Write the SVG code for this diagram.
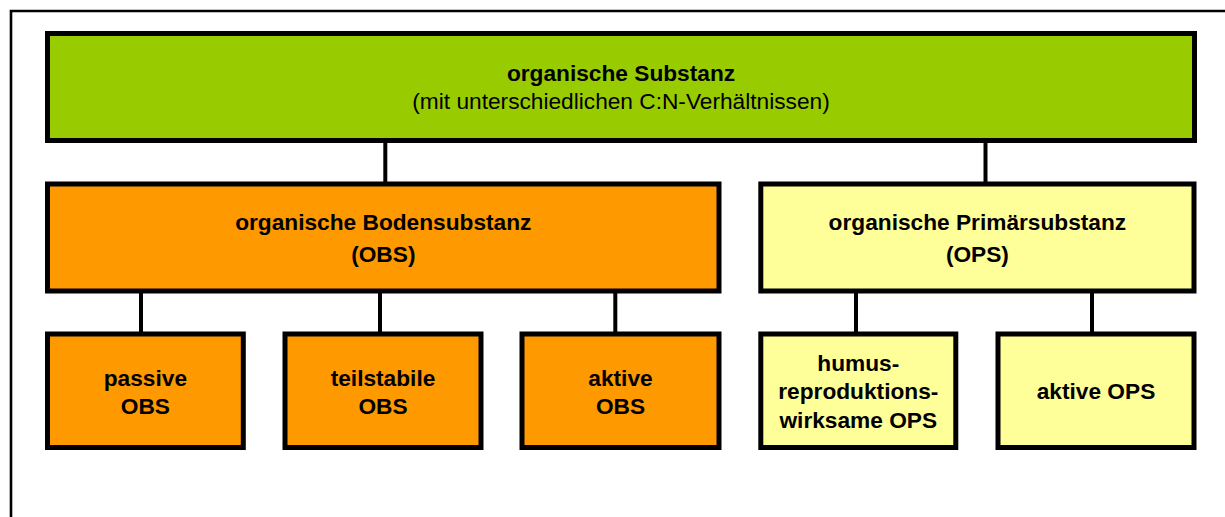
<svg xmlns="http://www.w3.org/2000/svg" width="1225" height="517" viewBox="0 0 1225 517">
<style>
.box{stroke:#000;stroke-width:5}
.g{fill:#99CC00}.o{fill:#FF9900}.y{fill:#FFFF99}
.t{font-family:"Liberation Sans",Arial,sans-serif;font-size:22.7px;fill:#000;text-anchor:middle}
.b{font-weight:bold}
.c{stroke:#000;stroke-width:4;fill:none}
</style>
<rect width="1225" height="517" fill="#fff"/>
<path d="M11,517 V11 H1225" fill="none" stroke="#000" stroke-width="2.6"/>
<g id="connectors">
<line class="c" x1="385.3" y1="140" x2="385.3" y2="184"/>
<line class="c" x1="985.5" y1="140" x2="985.5" y2="184"/>
<line class="c" x1="141" y1="291" x2="141" y2="334"/>
<line class="c" x1="380" y1="291" x2="380" y2="334"/>
<line class="c" x1="615.3" y1="291" x2="615.3" y2="334"/>
<line class="c" x1="856" y1="291" x2="856" y2="334"/>
<line class="c" x1="1092" y1="291" x2="1092" y2="334"/>
</g>
<g id="n-organische-substanz">
<rect class="box g" x="47.5" y="33.5" width="1147" height="107"/>
<text class="t b" x="621" y="81">organische Substanz</text>
<text class="t" x="621" y="109">(mit unterschiedlichen C:N-Verhältnissen)</text>
</g>
<g id="n-obs">
<rect class="box o" x="47.5" y="184" width="671.5" height="107"/>
<text class="t b" x="383.3" y="230">organische Bodensubstanz</text>
<text class="t b" x="383.3" y="261.5">(OBS)</text>
</g>
<g id="n-ops">
<rect class="box y" x="760.8" y="184" width="433.2" height="107"/>
<text class="t b" x="977.4" y="230">organische Primärsubstanz</text>
<text class="t b" x="977.4" y="262">(OPS)</text>
</g>
<g id="n-passive">
<rect class="box o" x="47.5" y="334" width="195.8" height="113.5"/>
<text class="t b" x="145.4" y="386">passive</text>
<text class="t b" x="145.4" y="414">OBS</text>
</g>
<g id="n-teilstabile">
<rect class="box o" x="285" y="334" width="196" height="113.5"/>
<text class="t b" x="383" y="386">teilstabile</text>
<text class="t b" x="383" y="414">OBS</text>
</g>
<g id="n-aktive-obs">
<rect class="box o" x="522" y="334" width="197" height="113.5"/>
<text class="t b" x="620.5" y="386">aktive</text>
<text class="t b" x="620.5" y="414">OBS</text>
</g>
<g id="n-humus">
<rect class="box y" x="760.8" y="334" width="195" height="113.5"/>
<text class="t b" x="858.3" y="371">humus-</text>
<text class="t b" x="858.3" y="399.3">reproduktions-</text>
<text class="t b" x="858.3" y="427.7">wirksame OPS</text>
</g>
<g id="n-aktive-ops">
<rect class="box y" x="998" y="334" width="196" height="113.5"/>
<text class="t b" x="1096" y="399.3">aktive OPS</text>
</g>
</svg>
